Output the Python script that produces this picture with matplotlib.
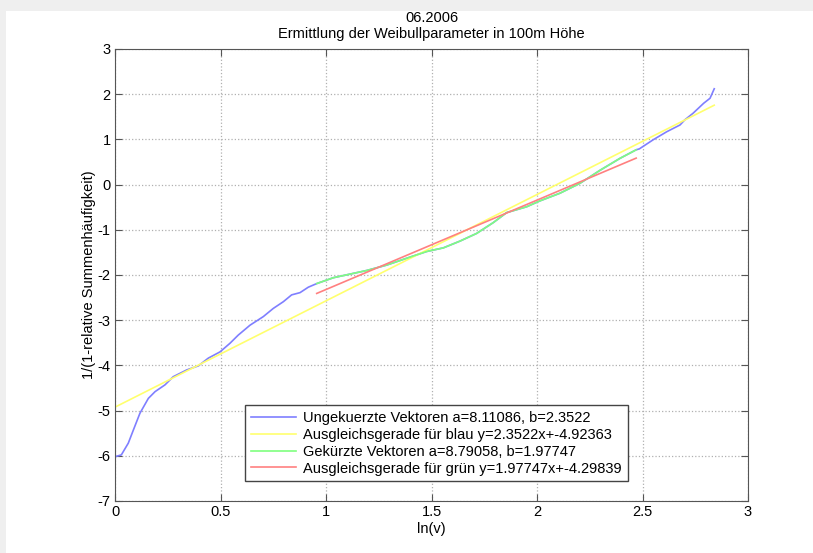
import numpy as np
import matplotlib.pyplot as plt
from matplotlib.patches import Rectangle

plt.rcParams['font.family'] = ['Liberation Sans', 'DejaVu Sans']
plt.rcParams['axes.unicode_minus'] = False

# Ungekuerzte Vektoren (ln(v), ln(-ln(1-F)))
x_blue = [0.0, 0.03, 0.063, 0.087, 0.118, 0.158, 0.19, 0.237, 0.276, 0.34,
          0.395, 0.442, 0.498, 0.545, 0.584, 0.64, 0.703, 0.75, 0.798, 0.837,
          0.877, 0.916, 0.956, 1.035, 1.114, 1.193, 1.288, 1.382, 1.477, 1.556,
          1.635, 1.714, 1.793, 1.856, 1.951, 2.014, 2.109, 2.204, 2.30, 2.393,
          2.47, 2.485, 2.55, 2.615, 2.678, 2.70, 2.74, 2.79, 2.82, 2.84]
y_blue = [-6.02, -5.98, -5.72, -5.43, -5.06, -4.73, -4.58, -4.43, -4.25, -4.10,
          -4.01, -3.84, -3.70, -3.51, -3.33, -3.11, -2.92, -2.74, -2.59, -2.44,
          -2.39, -2.27, -2.19, -2.06, -1.98, -1.90, -1.78, -1.63, -1.48, -1.40,
          -1.25, -1.08, -0.84, -0.62, -0.49, -0.36, -0.19, 0.03, 0.32, 0.58,
          0.77, 0.79, 0.99, 1.17, 1.32, 1.43, 1.58, 1.80, 1.91, 2.12]

# gekuerzter Bereich (Indizes in den ungekuerzten Vektoren)
cut_start = 22
cut_end = 41

a_blue, b_blue = 8.11086, 2.3522
c_blue = -4.92363
a_green, b_green = 8.79058, 1.97747
c_green = -4.29839

x_green = x_blue[cut_start:cut_end]
y_green = y_blue[cut_start:cut_end]

fig = plt.figure(figsize=(8.13, 5.53), dpi=100, facecolor='#efefef')
fig.patches.append(Rectangle((6 / 813, 0), 1, 1 - 11 / 553, transform=fig.transFigure,
                             facecolor='white', edgecolor='none', zorder=-10))
ax = fig.add_axes([115 / 813, 1 - 501 / 553, 633 / 813, 452 / 553])

xb = np.array(x_blue)
xg = np.array(x_green)
ax.plot(xb, y_blue, color='#7f7fff', lw=1.2,
        label=f'Ungekuerzte Vektoren a={a_blue}, b={b_blue}')
ax.plot(xb, b_blue * xb + c_blue, color='#ffff6e', lw=1.2,
        label=f'Ausgleichsgerade für blau y={b_blue}x+{c_blue}')
ax.plot(xg, y_green, color='#7fff7f', lw=1.2,
        label=f'Gekürzte Vektoren a={a_green}, b={b_green}')
ax.plot(xg, b_green * xg + c_green, color='#ff8080', lw=1.2,
        label=f'Ausgleichsgerade für grün y={b_green}x+{c_green}')

ax.set_xlim(0, 3)
ax.set_ylim(-7, 3)
ax.set_xticks([0, 0.5, 1, 1.5, 2, 2.5, 3])
ax.set_xticklabels(['0', '0.5', '1', '1.5', '2', '2.5', '3'])
ax.set_yticks(range(-7, 4))
ax.grid(True, linestyle=':', color='#b0b0b0', lw=0.9)
ax.tick_params(direction='in', length=5, top=True, right=True,
               labelsize=10.5, color='#555555', pad=3)
for s in ax.spines.values():
    s.set_color('#555555')

ax.set_xlabel('ln(v)', fontsize=10.5, labelpad=2)
ax.set_ylabel('1/(1-relative Summenhäufigkeit)', fontsize=10.5, labelpad=1)
ax.set_title('06.2006\nErmittlung der Weibullparameter in 100m Höhe',
             fontsize=10.5, pad=8, linespacing=1.15)

leg = ax.legend(loc='upper left', bbox_to_anchor=(130 / 633, 1 - 356 / 452),
                borderaxespad=0, fontsize=10.5, fancybox=False, framealpha=1,
                edgecolor='#444444', handlelength=3.1, handletextpad=0.5,
                labelspacing=0.2, borderpad=0.4)
leg.get_frame().set_linewidth(1.0)

fig.savefig('out.png', dpi=100, facecolor=fig.get_facecolor())
